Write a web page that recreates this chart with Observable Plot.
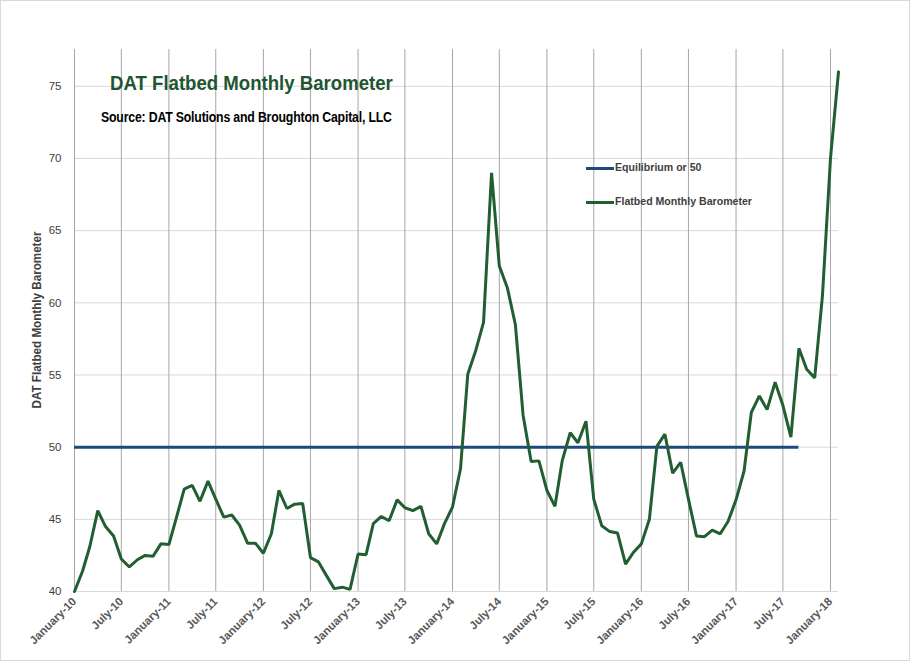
<!DOCTYPE html>
<html><head><meta charset="utf-8">
<script src="https://cdn.jsdelivr.net/npm/d3@7"></script>
<script src="https://cdn.jsdelivr.net/npm/@observablehq/plot@0.6"></script>
<style>
body{margin:0;background:#fff;}
#chart{position:relative;width:910px;height:661px;font-family:"Liberation Sans Narrow","Liberation Sans",sans-serif;}
#chart svg{position:absolute;left:0;top:0;}
.border{position:absolute;left:0;top:0;width:908px;height:659px;border:1px solid #d9d9d9;pointer-events:none;}
.title{position:absolute;left:110px;top:72px;font-size:20px;font-weight:bold;color:#1f5530;white-space:nowrap;transform:scaleX(0.93);transform-origin:0 0;}
.source{position:absolute;left:101px;top:109px;font-size:14px;font-weight:bold;color:#000;white-space:nowrap;transform:scaleX(0.877);transform-origin:0 0;letter-spacing:-0.2px;}
.leg{position:absolute;font-size:11.5px;color:#404040;font-weight:bold;white-space:nowrap;transform:scaleX(0.92);transform-origin:0 0;}
.legline{position:absolute;width:28px;height:3px;}
.ylabel{position:absolute;left:37px;top:320px;transform:translate(-50%,-50%) rotate(-90deg) scaleX(0.97);font-size:12px;font-weight:bold;color:#404040;white-space:nowrap;}
</style></head><body><div id="chart"></div>
<script>
// Data
const startYear = 2010;
const startMonth = 0; // January
const barometer = [
  40.0, 41.4, 43.1, 45.6, 44.5, 43.85, 42.25, 41.7, 42.2, 42.5, 42.45, 43.3,
  43.25, 45.25, 47.1, 47.35, 46.25, 47.65, 46.4, 45.15, 45.3, 44.6, 43.35, 43.35,
  42.65, 44.0, 47.0, 45.75, 46.05, 46.1, 42.35, 42.05, 41.1, 40.2, 40.3, 40.15,
  42.6, 42.55, 44.7, 45.2, 44.9, 46.35, 45.8, 45.6, 45.9, 44.0, 43.3, 44.7,
  45.85, 48.5, 55.05, 56.7, 58.65, 69.0, 62.55, 61.05, 58.5, 52.2, 49.0, 49.05,
  47.0, 45.9, 49.05, 51.0, 50.3, 51.8, 46.4, 44.55, 44.15, 44.05, 41.9, 42.7,
  43.3, 45.0, 50.05, 50.9, 48.2, 48.95, 46.4, 43.85, 43.8, 44.25, 44.0, 44.85,
  46.35, 48.35, 52.4, 53.55, 52.6, 54.5, 52.9, 50.7, 56.85, 55.4, 54.8, 60.5,
  70.0, 76.0
];
const equilibriumValue = 50;
const equilibriumStart = [2010, 0];
const equilibriumEnd = [2017, 8];
const xTickMonths = [[2010,0],[2010,6],[2011,0],[2011,6],[2012,0],[2012,6],[2013,0],[2013,6],[2014,0],[2014,6],[2015,0],[2015,6],[2016,0],[2016,6],[2017,0],[2017,6],[2018,0]];
const xTickLabels = ["January-10","July-10","January-11","July-11","January-12","July-12","January-13","July-13","January-14","July-14","January-15","July-15","January-16","July-16","January-17","July-17","January-18"];
const yTicks = [40, 45, 50, 55, 60, 65, 70, 75];
const yDomain = [40, 77.55];
const titleText = "DAT Flatbed Monthly Barometer";
const sourceText = "Source: DAT Solutions and Broughton Capital, LLC";
const seriesNames = ["Equilibrium or 50", "Flatbed Monthly Barometer"];
const colors = ["#1f497d", "#215e32"];

const data = barometer.map((v, i) => ({date: new Date(startYear, startMonth + i, 1), value: v}));
const tickDates = xTickMonths.map(([y, m]) => new Date(y, m, 1));
const labelMap = new Map(tickDates.map((d, i) => [d.getTime(), xTickLabels[i]]));
const eq = [{y: equilibriumValue, x1: new Date(...equilibriumStart, 1), x2: new Date(...equilibriumEnd, 1)}];

const plot = Plot.plot({
  width: 910, height: 661,
  marginLeft: 74, marginRight: 72, marginTop: 49, marginBottom: 70,
  style: {fontFamily: '"Liberation Sans Narrow","Liberation Sans",sans-serif', fontSize: "11.5px", background: "transparent", color: "#404040"},
  x: {type: "time", domain: [data[0].date, data[data.length - 1].date]},
  y: {domain: yDomain},
  marks: [
    Plot.ruleY(yTicks, {stroke: "#d9d9d9", strokeWidth: 1}),
    Plot.ruleX(tickDates, {stroke: "#a6a6a6", strokeWidth: 1}),
    Plot.ruleY(eq, {y: "y", x1: "x1", x2: "x2", stroke: colors[0], strokeWidth: 3}),
    Plot.line(data, {x: "date", y: "value", stroke: colors[1], strokeWidth: 3, strokeLinejoin: "miter"}),
    Plot.axisX({ticks: tickDates, tickFormat: d => labelMap.get(d.getTime()), tickRotate: -45, tickSize: 0, tickPadding: 8, label: null, fill: "#595959", fontWeight: "bold"}),
    Plot.axisY({ticks: yTicks, tickSize: 0, tickPadding: 13, label: null, fill: "#404040"})
  ]
});

const chart = document.getElementById("chart");
chart.appendChild(plot);
function addDiv(cls, text, style) {
  const d = document.createElement("div");
  d.className = cls;
  if (text) d.textContent = text;
  if (style) Object.assign(d.style, style);
  chart.appendChild(d);
  return d;
}
addDiv("title", titleText);
addDiv("source", sourceText);
addDiv("ylabel", titleText);
addDiv("legline", null, {left: "586px", top: "167px", background: colors[0]});
addDiv("leg", seriesNames[0], {left: "615px", top: "161px"});
addDiv("legline", null, {left: "586px", top: "201px", background: colors[1]});
addDiv("leg", seriesNames[1], {left: "615px", top: "195px"});
addDiv("border");
</script>
</body></html>
